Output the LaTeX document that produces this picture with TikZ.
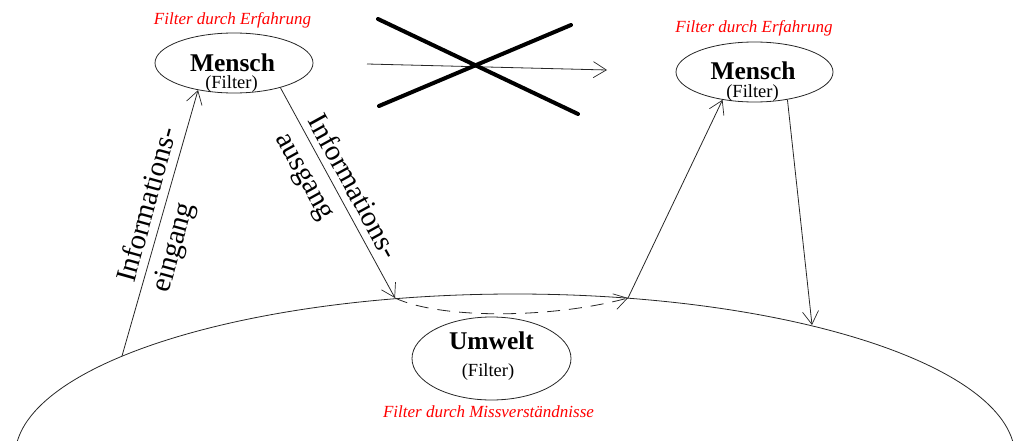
\documentclass[tikz,border=0pt]{standalone}
\usepackage{fontspec}
\setmainfont{Liberation Serif}
\usetikzlibrary{shapes.geometric,arrows.meta}
\begin{document}
\begin{tikzpicture}[x=1pt,y=-1pt,
  line/.style={draw=black!85, line width=0.8pt},
  arr/.style={line, -{Straight Barb[length=13pt,width=16pt,line width=0.7pt]}},
  oval/.style={ellipse, draw=black!85, line width=0.8pt, inner sep=0pt},
  title/.style={font=\fontsize{25.5}{30}\selectfont\bfseries, anchor=base, inner sep=0pt},
  sub/.style={font=\fontsize{18.5}{22}\selectfont, anchor=base, inner sep=0pt},
  note/.style={font=\fontsize{17}{20}\selectfont\itshape, text=red, anchor=base, inner sep=0pt},
  lab/.style={font=\fontsize{29}{36}\selectfont, align=left, inner sep=0pt},
  cross/.style={line width=4pt, line cap=round, draw=black}]
\useasboundingbox (0,0) rectangle (1016,441);
\begin{scope}
  \clip (0,0) rectangle (1016,441);
  \draw[line] (515,457) ellipse [x radius=500pt, y radius=163pt];
\end{scope}

% left Mensch
\node[oval, minimum width=158pt, minimum height=60pt] (m1) at (234,63) {};
\node[title] (m1t) at (232.5,72) {Mensch};
\node[sub] (m1s) at (231.5,89) {(Filter)};
\node[note] (m1n) at (232.5,25) {Filter durch Erfahrung};

% right Mensch
\node[oval, minimum width=157pt, minimum height=60pt] (m2) at (754.5,72) {};
\node[title] (m2t) at (753,80) {Mensch};
\node[sub] (m2s) at (752.5,98) {(Filter)};
\node[note] (m2n) at (754,33) {Filter durch Erfahrung};

% Umwelt
\node[oval, minimum width=159pt, minimum height=83pt] (u) at (491.5,358.5) {};
\node[title] (ut) at (491.5,349) {Umwelt};
\node[sub] (us) at (488,376) {(Filter)};
\node[note] (un) at (488.5,417) {Filter durch Missverständnisse};

% points on the big arc
\coordinate (p1) at (122,356);
\coordinate (p2) at (395,298);
\coordinate (p3) at (628,298);
\coordinate (p4) at (812,325);

\draw[arr] (p1) -- (m1.217);
\draw[arr] (m1.-28) -- (p2);
\draw[arr, dash pattern=on 13pt off 9pt] (p2) .. controls (440,319) and (550,319) .. (p3);
\draw[arr] (p3) -- (m2.221);
\draw[arr] (m2.-40) -- (p4);

% crossed-out direct arrow
\coordinate (h1) at (367,64);
\coordinate (h2) at (607,70);
\draw[arr] (h1) -- (h2);
\coordinate (xa1) at (378,19);
\coordinate (xa2) at (578,114);
\coordinate (xb1) at (379,106);
\coordinate (xb2) at (571,25);
\draw[cross] (xa1) -- (xa2);
\draw[cross] (xb1) -- (xb2);

% labels
\node[lab, rotate=74.5] (le) at (166,210) {Informations-\\eingang};
\node[lab, rotate=-61.2] (la) at (336,196) {Informations-\\ausgang};
\end{tikzpicture}
\end{document}
